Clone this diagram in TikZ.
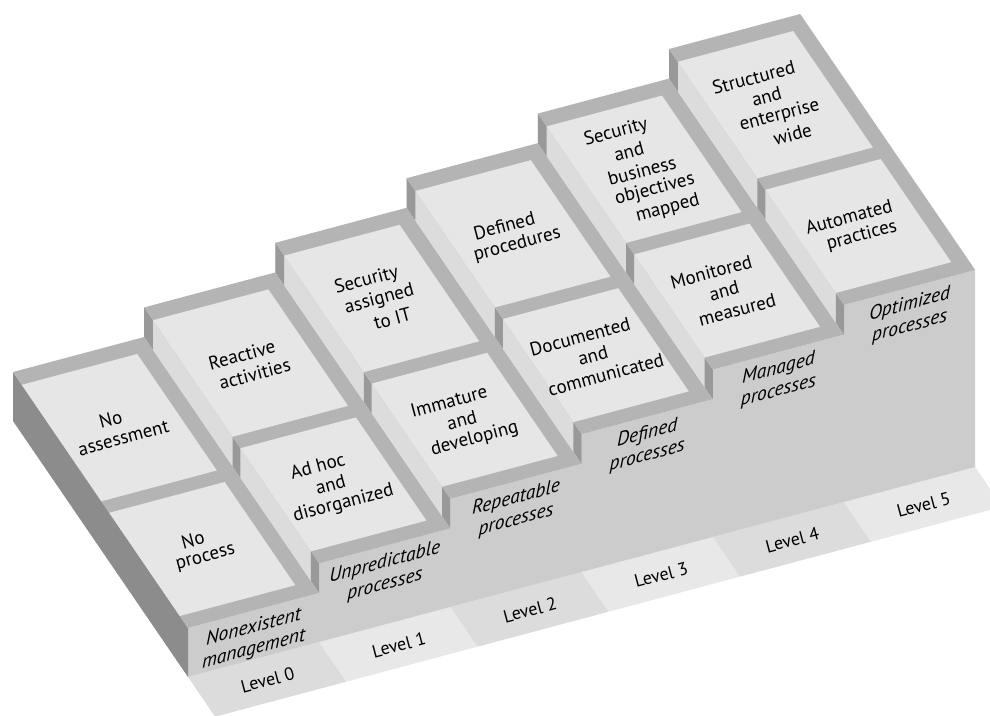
\documentclass[tikz,border=0pt]{standalone}
\usepackage{fontspec}
\setmainfont{PT Sans}
\definecolor{panel}{HTML}{E6E6E6}
\definecolor{rim}{HTML}{B4B4B4}
\definecolor{frontc}{HTML}{CCCCCC}
\definecolor{sidedark}{HTML}{8C8C8C}
\definecolor{barend}{HTML}{999999}
\definecolor{sidelight}{HTML}{DCDCDC}
\definecolor{floorA}{HTML}{DCDCDC}
\definecolor{floorB}{HTML}{E8E8E8}
% lines of a panel text, stacked along the depth direction of the step top
% #1 name prefix, #2 s, #3 depth of the centre, #4 height, #5 number of lines, #6 lines
\newcommand\tilestack[6]{%
  \foreach \ln [count=\i] in {#6}{%
    \node[tiletext] (#1\i) at (#2,{#3+((#5+1)/2-\i)*0.074},#4) {\ln};
  }}
\begin{document}
\begin{tikzpicture}[x=1pt,y=1pt,
  tiletext/.style={font=\fontsize{19}{20}\selectfont, rotate=14.94, inner sep=0pt},
  facelabel/.style={font=\fontsize{19.5}{22}\selectfont\itshape, align=center, yslant=0.2668, inner sep=0pt},
  floorlabel/.style={font=\fontsize{18}{20}\selectfont, rotate=14.94, inner sep=0pt}]
\useasboundingbox (0,0) rectangle (990,715);
\clip (0,0) rectangle (990,715);
% oblique axes: x = one column width, y = full depth (front to back), z = height in px
\begin{scope}[shift={(188,38)}, x={(131.2pt,35pt)}, y={(-175pt,256pt)}, z={(0pt,1pt)}]
  % floor strips in front of the stairs
  \foreach \k/\c in {0/floorA,1/floorB,2/floorA,3/floorB,4/floorA,5/floorB}{
    \fill[\c] (\k,0,0) -- (\k+1,0,0) -- (\k+1,-0.155,0) -- (\k,-0.155,0) -- cycle;
    \node[floorlabel] (lvl\k) at (\k+0.5,-0.08,0) {Level \k};
  }
  % common front face of all steps
  \fill[frontc] (0,0,0) -- (6,0,0) -- (6,0,197) -- (5,0,197) -- (5,0,167.4)
    -- (4,0,167.4) -- (4,0,137.8) -- (3,0,137.8) -- (3,0,108.2) -- (2,0,108.2)
    -- (2,0,78.6) -- (1,0,78.6) -- (1,0,49) -- (0,0,49) -- cycle;
  % left side of the lowest step
  \fill[sidedark] (0,0,0) -- (0,1,0) -- (0,1,49) -- (0,0,49) -- cycle;
  % columns: left riser above the previous step, rim and two panels on top
  \foreach \k/\h/\p in {0/49/0,1/78.6/49,2/108.2/78.6,3/137.8/108.2,4/167.4/137.8,5/197/167.4}{
    \ifnum\k>0
      \fill[sidelight] (\k,0,\p) -- (\k,1,\p) -- (\k,1,\h) -- (\k,0,\h) -- cycle;
      \foreach \a/\b in {0/0.047,0.45/0.495,0.95/1}{
        \fill[barend] (\k,\a,\p) -- (\k,\b,\p) -- (\k,\b,\h) -- (\k,\a,\h) -- cycle;
      }
    \fi
    \fill[rim] (\k,0,\h) -- (\k+1,0,\h) -- (\k+1,1,\h) -- (\k,1,\h) -- cycle;
    \fill[panel] (\k,0.047,\h) -- (\k+0.88,0.047,\h) -- (\k+0.88,0.45,\h) -- (\k,0.45,\h) -- cycle;
    \fill[panel] (\k,0.495,\h) -- (\k+0.88,0.495,\h) -- (\k+0.88,0.95,\h) -- (\k,0.95,\h) -- cycle;
    \coordinate (fl\k) at (\k+0.5,0,\h-28);
  }
  % step front labels
  \node[facelabel] (lab0) at (fl0) {Nonexistent\\management};
  \node[facelabel] (lab1) at (fl1) {Unpredictable\\processes};
  \node[facelabel] (lab2) at (fl2) {Repeatable\\processes};
  \node[facelabel] (lab3) at (fl3) {Defined\\processes};
  \node[facelabel] (lab4) at (fl4) {Managed\\processes};
  \node[facelabel] (lab5) at (fl5) {Optimized\\processes};
  % panel texts (back and front panel of each step)
  \tilestack{b0}{0.42}{0.72}{49}{2}{No,assessment}
  \tilestack{f0}{0.42}{0.25}{49}{2}{No,process}
  \tilestack{b1}{1.42}{0.72}{78.6}{2}{Reactive,activities}
  \tilestack{f1}{1.42}{0.25}{78.6}{3}{Ad hoc,and,disorganized}
  \tilestack{b2}{2.42}{0.72}{108.2}{3}{Security,assigned,to IT}
  \tilestack{f2}{2.42}{0.25}{108.2}{3}{Immature,and,developing}
  \tilestack{b3}{3.42}{0.72}{137.8}{2}{Defined,procedures}
  \tilestack{f3}{3.42}{0.25}{137.8}{3}{Documented,and,communicated}
  \tilestack{b4}{4.42}{0.72}{167.4}{5}{Security,and,business,objectives,mapped}
  \tilestack{f4}{4.42}{0.25}{167.4}{3}{Monitored,and,measured}
  \tilestack{b5}{5.42}{0.72}{197}{4}{Structured,and,enterprise,wide}
  \tilestack{f5}{5.42}{0.25}{197}{2}{Automated,practices}
\end{scope}
\end{tikzpicture}
\end{document}
